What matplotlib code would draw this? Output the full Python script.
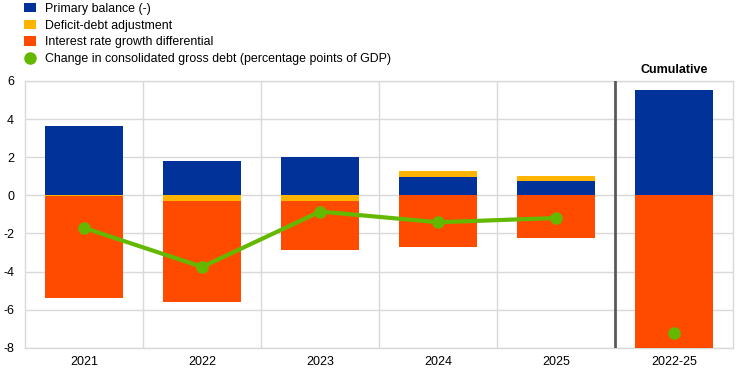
import matplotlib
matplotlib.use("Agg")
import matplotlib.pyplot as plt
import numpy as np
from matplotlib.lines import Line2D
from matplotlib.patches import Patch

plt.rcParams['font.family'] = ['Liberation Sans', 'DejaVu Sans']

categories = ["2021", "2022", "2023", "2024", "2025", "2022-25"]
primary_balance = [3.65, 1.80, 2.00, 0.95, 0.75, 5.50]
deficit_debt = [-0.05, -0.28, -0.30, 0.33, 0.27, 0.02]
interest_growth = [-5.33, -5.31, -2.56, -2.70, -2.23, -12.80]
debt_change = [-1.71, -3.75, -0.85, -1.41, -1.19, -7.20]

series = [
    ("Primary balance (-)", primary_balance, "#003299"),
    ("Deficit-debt adjustment", deficit_debt, "#FFB400"),
    ("Interest rate growth differential", interest_growth, "#FF4B00"),
]
green = "#65B800"

fig = plt.figure(figsize=(7.44, 3.76), dpi=100)
ax = fig.add_axes([0.034, 0.0745, 0.951, 0.7105])

x = np.arange(len(categories))
pos = np.zeros(len(x))
neg = np.zeros(len(x))
for name, vals, col in series:
    v = np.array(vals, dtype=float)
    bottom = np.where(v >= 0, pos, neg)
    ax.bar(x, v, bottom=bottom, width=0.66, color=col, edgecolor="none", zorder=3)
    pos = np.where(v >= 0, pos + v, pos)
    neg = np.where(v < 0, neg + v, neg)

ax.plot(x[:5], debt_change[:5], color=green, lw=3, marker="o", ms=8, zorder=5)
ax.plot(x[5:], debt_change[5:], color=green, lw=0, marker="o", ms=8, zorder=5)

ax.set_xlim(-0.5, len(x) - 0.5)
ax.set_ylim(-8, 6)
ax.set_yticks(np.arange(-8, 7, 2))
ax.set_yticklabels([str(v) for v in range(-8, 7, 2)], fontsize=9)
ax.set_xticks(x)
ax.set_xticklabels(categories, fontsize=9)
ax.tick_params(length=0, pad=6)
ax.tick_params(axis="y", pad=8)

ax.grid(axis="y", color="#d9d9d9", lw=1, zorder=0)
for b in np.arange(0.5, 4.0, 1.0):
    ax.axvline(b, color="#d9d9d9", lw=1, zorder=0)
ax.axvline(4.5, color="#595959", lw=2, zorder=4)
for s in ax.spines.values():
    s.set_color("#d9d9d9")
    s.set_linewidth(1)

ax.text(5, 6.25, "Cumulative", ha="center", va="bottom", fontsize=9, fontweight="bold")

handles = [Patch(facecolor=c, edgecolor="none") for _, _, c in series]
handles.append(Line2D([], [], color=green, marker="o", lw=0, ms=8))
labels = [n for n, _, _ in series] + ["Change in consolidated gross debt (percentage points of GDP)"]
fig.legend(handles, labels, loc="upper left", bbox_to_anchor=(0.022, 1.012), frameon=False,
           fontsize=8.9, handlelength=0.95, handleheight=0.8, handletextpad=0.8, labelspacing=0.38,
           borderaxespad=0.2)

fig.savefig("out.png", dpi=100)
